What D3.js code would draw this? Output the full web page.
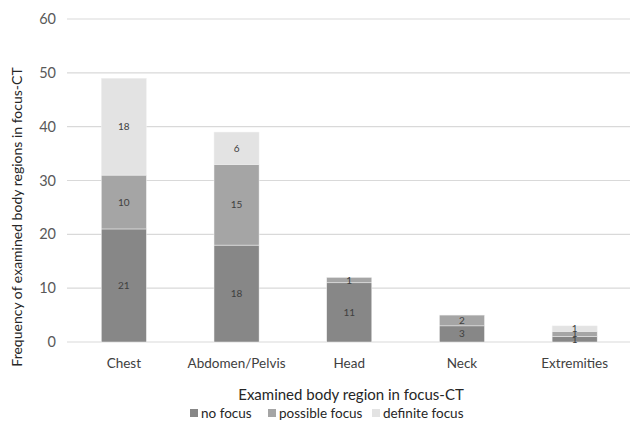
<!DOCTYPE html>
<html>
<head>
<meta charset="utf-8">
<script src="https://cdn.jsdelivr.net/npm/d3@7"></script>
<style>
  html, body { margin: 0; padding: 0; background: #fff; }
  svg { display: block; font-family: Lato, "Open Sans", sans-serif; }
</style>
</head>
<body>
<svg id="chart" width="630" height="421"></svg>
<script>
// Examined body regions and counts per focus category
const regions = ["Chest", "Abdomen/Pelvis", "Head", "Neck", "Extremities"];
const seriesNames = ["no focus", "possible focus", "definite focus"];
const noFocus = [21, 18, 11, 3, 1];
const possibleFocus = [10, 15, 1, 2, 1];
const definiteFocus = [18, 6, 0, 0, 1];
const yTicks = [0, 10, 20, 30, 40, 50, 60];
const colors = ["#878787", "#a5a5a5", "#e3e3e3"];

const rows = regions.map((r, i) => ({
  region: r,
  "no focus": noFocus[i],
  "possible focus": possibleFocus[i],
  "definite focus": definiteFocus[i]
}));
const stacked = d3.stack().keys(seriesNames)(rows);

const svg = d3.select("#chart");
const x = d3.scaleBand().domain(regions).range([67.5, 631]).paddingInner(0.6).paddingOuter(0.3);
const y = d3.scaleLinear().domain([0, 60]).range([342, 19]);

// horizontal gridlines
svg.append("g").selectAll("line").data(yTicks).join("line")
  .attr("x1", 67).attr("x2", 630)
  .attr("y1", d => y(d)).attr("y2", d => y(d))
  .attr("stroke", "#d9d9d9").attr("stroke-width", 1.2);

// y-axis tick labels
const yAxis = d3.axisLeft(y).tickValues(yTicks).tickSize(0).tickPadding(0);
const gy = svg.append("g").attr("transform", "translate(56,0)").call(yAxis);
gy.select(".domain").remove();
gy.selectAll("text").attr("fill", "#595959").style("font-size", "14.5px")
  .style("font-family", "Lato, sans-serif");

// stacked bars
const layer = svg.append("g").selectAll("g").data(stacked).join("g")
  .attr("fill", (d, i) => colors[i]);
layer.selectAll("rect").data(d => d).join("rect")
  .attr("x", d => x(d.data.region))
  .attr("width", x.bandwidth())
  .attr("y", d => y(d[1]))
  .attr("height", d => y(d[0]) - y(d[1]))
  .attr("stroke", "#f2f2f2").attr("stroke-width", 0.5);

// value labels inside segments
layer.selectAll("text").data(d => d.filter(s => s[1] - s[0] > 0)).join("text")
  .attr("x", d => x(d.data.region) + x.bandwidth() / 2)
  .attr("y", d => (y(d[0]) + y(d[1])) / 2)
  .attr("dy", "0.35em")
  .attr("text-anchor", "middle")
  .attr("fill", "#404040")
  .style("font-size", "10px")
  .text(d => d[1] - d[0]);

// category axis
const xAxis = d3.axisBottom(x).tickSize(0).tickPadding(0);
const gx = svg.append("g").attr("transform", "translate(0,358)").call(xAxis);
gx.select(".domain").remove();
gx.selectAll("text").attr("fill", "#404040").style("font-size", "13.5px")
  .attr("dy", "0.71em")
  .style("font-family", "Lato, sans-serif");

// axis titles
svg.append("text")
  .attr("x", 351).attr("y", 400)
  .attr("text-anchor", "middle")
  .attr("fill", "#262626")
  .style("font-size", "15px")
  .text("Examined body region in focus-CT");

svg.append("text")
  .attr("transform", "translate(22,217) rotate(-90)")
  .attr("text-anchor", "middle")
  .attr("fill", "#262626")
  .style("font-size", "14px")
  .text("Frequency of examined body regions in focus-CT");

// legend
const legendX = [190, 268, 372];
const legend = svg.append("g").selectAll("g").data(seriesNames).join("g")
  .attr("transform", (d, i) => `translate(${legendX[i]},413)`);
legend.append("rect").attr("x", 0).attr("y", -4).attr("width", 8).attr("height", 8)
  .attr("fill", (d, i) => colors[i]);
legend.append("text").attr("x", 11).attr("dy", "0.35em")
  .attr("fill", "#262626").style("font-size", "13.5px")
  .text(d => d);
</script>
</body>
</html>
